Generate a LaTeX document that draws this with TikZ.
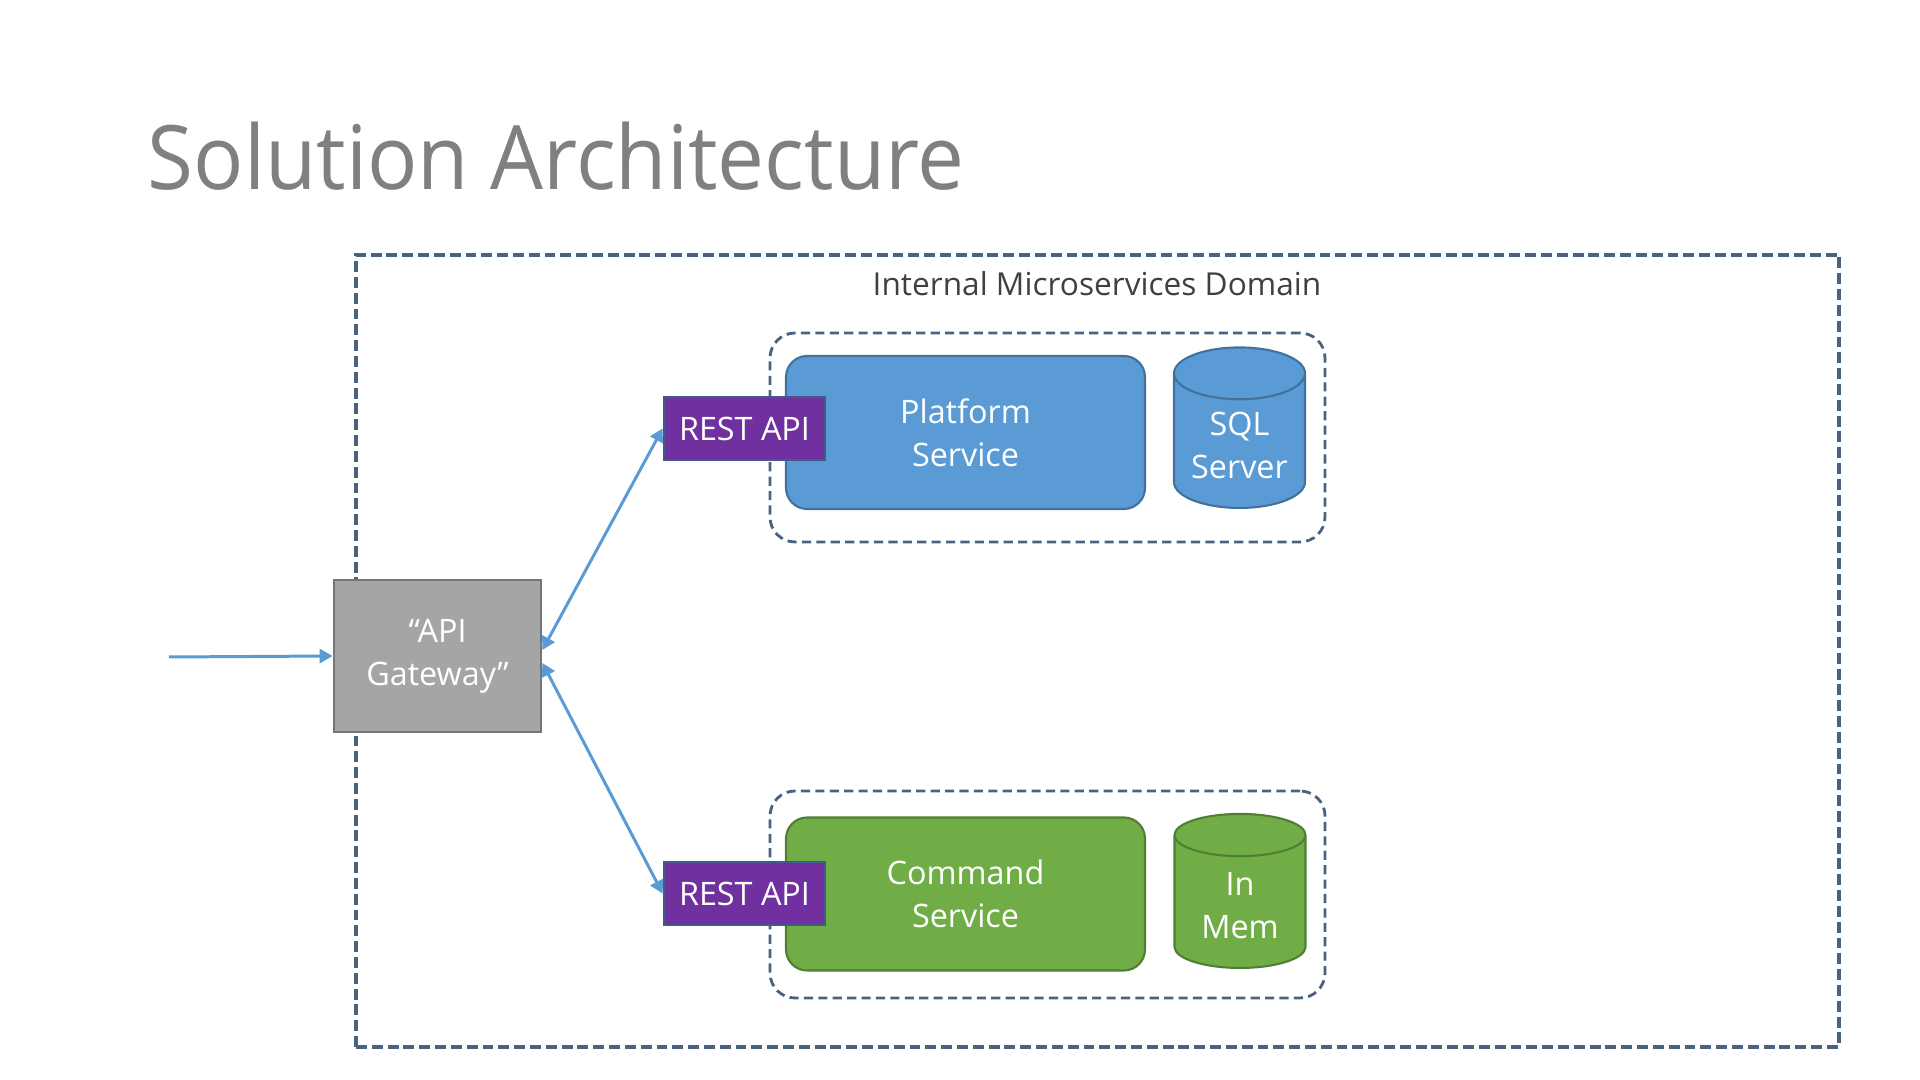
\documentclass[tikz,border=0pt]{standalone}
\usepackage{fontspec}
\setmainfont{Open Sans}
\newfontfamily\titlefont[FakeStretch=0.94]{Open Sans}
\usepackage{tikz}
\usetikzlibrary{arrows.meta, shapes.geometric, positioning}
\usepackage{xcolor}
\definecolor{titleGray}{RGB}{128, 128, 128}
\definecolor{labelGray}{RGB}{64, 64, 64}
\definecolor{zoneLine}{RGB}{72, 98, 128}
\definecolor{platBlue}{RGB}{91, 155, 213}
\definecolor{platEdge}{RGB}{65, 113, 156}
\definecolor{cmdGreen}{RGB}{112, 173, 71}
\definecolor{cmdEdge}{RGB}{80, 126, 50}
\definecolor{restPurple}{RGB}{112, 48, 160}
\definecolor{restEdge}{RGB}{65, 90, 140}
\definecolor{gwGray}{RGB}{165, 165, 165}
\definecolor{gwEdge}{RGB}{118, 118, 118}
\definecolor{linkBlue}{RGB}{91, 155, 213}

\begin{document}
\begin{tikzpicture}[
  txt/.style={font=\fontsize{9.2}{12.2}\selectfont, text=white, align=center},
  service/.style={txt, draw, rounded corners=6pt, minimum width=3.59cm,
                  minimum height=1.53cm, line width=0.6pt},
  store/.style={txt, draw, cylinder, shape border rotate=90, aspect=0.5,
                inner xsep=1pt, minimum width=1.31cm, minimum height=1.54cm,
                line width=0.6pt},
  restbox/.style={txt, draw=restEdge, fill=restPurple, minimum width=1.61cm,
                  minimum height=0.63cm, line width=0.8pt},
  zone/.style={draw=zoneLine, dash pattern=on 2.6pt off 1.5pt, line width=0.8pt},
  outerzone/.style={zone, dash pattern=on 3.1pt off 1.4pt, line width=1.1pt},
  link/.style={draw=linkBlue, line width=0.85pt},
  tip/.tip={Triangle[length=0.13cm, width=0.14cm]}
]
  \useasboundingbox[fill=white] (0, 0) rectangle (19.2, 10.8);

  % ── title ──
  \node[anchor=base west, inner sep=0, text=titleGray,
        font=\titlefont\fontsize{25.3}{30}\selectfont] (title) at (1.47, 8.90)
    {Solution Architecture};

  % ── domain ──
  \node[outerzone, minimum width=14.83cm, minimum height=7.92cm] (domain)
    at (10.975, 4.29) {};
  \node[text=labelGray, font=\fontsize{9}{11}\selectfont] (domainlbl)
    at (10.97, 7.96) {Internal Microservices Domain};

  % ── platform ──
  \node[zone, rounded corners=0.25cm, minimum width=5.55cm,
        minimum height=2.09cm] (platzone) at (10.475, 6.425) {};
  \node[service, draw=platEdge, fill=platBlue] (plat) at (9.655, 6.475)
    {Platform\\Service};
  \node[store, draw=platEdge, fill=platBlue, anchor=south] (sql)
    at (12.395, 5.71) {SQL\\Server};
  \node[restbox] (rest1) at (7.445, 6.515) {REST API};

  % ── command ──
  \node[zone, rounded corners=0.25cm, minimum width=5.55cm,
        minimum height=2.07cm] (cmdzone) at (10.475, 1.855) {};
  \node[service, draw=cmdEdge, fill=cmdGreen] (cmd) at (9.655, 1.86)
    {Command\\Service};
  \node[store, draw=cmdEdge, fill=cmdGreen, anchor=south] (mem)
    at (12.40, 1.11) {In\\Mem};
  \node[restbox] (rest2) at (7.445, 1.865) {REST API};

  % ── gateway ──
  \node[txt, draw=gwEdge, fill=gwGray, line width=0.8pt, minimum width=2.07cm,
        minimum height=1.52cm] (gw) at (4.375, 4.24) {“API\\Gateway”};
  \coordinate (client) at (1.69, 4.23);

  \draw[link, -tip] (client) -- (gw.west);
  \draw[link, tip-tip] ([yshift=0.06cm]gw.east) -- (rest1.west);
  \draw[link, tip-tip] ([yshift=-0.07cm]gw.east) -- (rest2.west);
\end{tikzpicture}
\end{document}
